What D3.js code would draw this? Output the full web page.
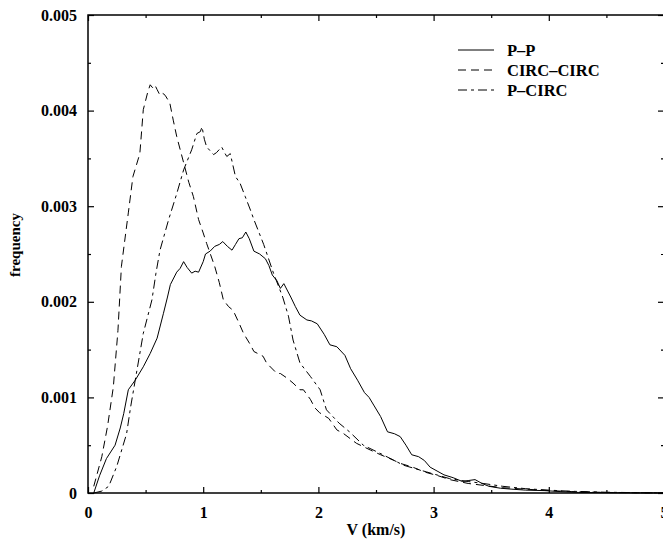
<!DOCTYPE html>
<html>
<head>
<meta charset="utf-8">
<script src="https://cdn.jsdelivr.net/npm/d3@7"></script>
<style>
  html, body { margin: 0; padding: 0; background: #fff; }
  svg { display: block; }
  text { font-family: "Liberation Serif", "Times New Roman", serif; font-weight: bold; fill: #000; }
</style>
</head>
<body>
<svg id="chart" width="663" height="542"></svg>
<script>
// ---- data (V in km/s, frequency in units of 1e-3) ----
const seriesNames = ["P\u2013P", "CIRC\u2013CIRC", "P\u2013CIRC"];
const xTicks = [0, 1, 2, 3, 4, 5];
const yTicks = [0, 0.001, 0.002, 0.003, 0.004, 0.005];
const yTickLabels = ["0", "0.001", "0.002", "0.003", "0.004", "0.005"];

const ppData = [[0.05,0.00],[0.10,0.18],[0.16,0.36],[0.235,0.50],[0.28,0.68],[0.31,0.83],[0.35,1.08],[0.41,1.18],[0.48,1.32],[0.54,1.46],[0.60,1.62],[0.655,1.88],[0.69,2.05],[0.715,2.18],[0.77,2.31],[0.80,2.35],[0.83,2.42],[0.86,2.36],[0.90,2.30],[0.93,2.32],[0.96,2.31],[1.00,2.42],[1.02,2.50],[1.06,2.53],[1.10,2.58],[1.14,2.60],[1.17,2.63],[1.21,2.58],[1.25,2.54],[1.28,2.60],[1.31,2.66],[1.34,2.67],[1.37,2.73],[1.40,2.66],[1.44,2.53],[1.49,2.50],[1.54,2.45],[1.57,2.38],[1.60,2.28],[1.64,2.22],[1.67,2.14],[1.70,2.19],[1.76,2.05],[1.80,1.95],[1.84,1.86],[1.90,1.81],[1.94,1.80],[1.99,1.77],[2.05,1.66],[2.10,1.55],[2.16,1.53],[2.23,1.44],[2.28,1.30],[2.34,1.18],[2.40,1.05],[2.44,1.00],[2.48,0.92],[2.54,0.80],[2.60,0.64],[2.66,0.62],[2.71,0.59],[2.76,0.50],[2.81,0.40],[2.87,0.38],[2.92,0.34],[2.97,0.27],[3.03,0.23],[3.09,0.19],[3.17,0.16],[3.25,0.12],[3.30,0.13],[3.36,0.14],[3.42,0.10],[3.48,0.07],[3.58,0.05],[3.68,0.04],[3.80,0.03],[3.96,0.025],[4.10,0.015],[4.26,0.006],[4.5,0.003],[4.8,0.001],[5.0,0.0005]];

const ccData = [[0.05,0.07],[0.12,0.38],[0.17,0.70],[0.22,1.11],[0.26,1.70],[0.29,2.37],[0.35,2.93],[0.39,3.31],[0.45,3.55],[0.48,4.01],[0.52,4.20],[0.54,4.27],[0.56,4.24],[0.58,4.27],[0.60,4.22],[0.625,4.16],[0.65,4.18],[0.67,4.16],[0.71,4.08],[0.74,3.90],[0.77,3.73],[0.84,3.41],[0.875,3.25],[0.915,3.10],[0.96,2.86],[1.00,2.72],[1.03,2.61],[1.10,2.37],[1.14,2.20],[1.175,2.02],[1.22,1.95],[1.26,1.91],[1.31,1.78],[1.35,1.67],[1.41,1.55],[1.44,1.48],[1.52,1.43],[1.55,1.36],[1.64,1.25],[1.67,1.25],[1.73,1.20],[1.78,1.15],[1.84,1.08],[1.87,1.08],[1.93,0.98],[1.97,0.89],[2.01,0.84],[2.09,0.78],[2.16,0.66],[2.22,0.62],[2.33,0.52],[2.45,0.45],[2.54,0.40],[2.64,0.35],[2.71,0.31],[2.82,0.27],[2.92,0.22],[3.04,0.18],[3.14,0.14],[3.30,0.10],[3.43,0.08],[3.6,0.055],[3.8,0.04],[4.0,0.025],[4.2,0.015],[4.5,0.006],[4.8,0.002],[5.0,0.001]];

const pcData = [[0.05,0.0],[0.12,0.02],[0.18,0.07],[0.25,0.28],[0.335,0.62],[0.37,0.90],[0.41,1.18],[0.48,1.67],[0.555,2.02],[0.59,2.30],[0.625,2.54],[0.70,2.86],[0.77,3.13],[0.83,3.38],[0.90,3.59],[0.945,3.76],[0.975,3.78],[0.99,3.83],[1.01,3.70],[1.03,3.62],[1.09,3.54],[1.115,3.56],[1.16,3.62],[1.19,3.55],[1.205,3.52],[1.235,3.55],[1.28,3.31],[1.32,3.24],[1.365,3.10],[1.41,2.96],[1.44,2.86],[1.525,2.60],[1.61,2.30],[1.69,2.05],[1.74,1.85],[1.78,1.60],[1.84,1.36],[1.93,1.22],[2.015,1.08],[2.07,0.87],[2.18,0.73],[2.27,0.64],[2.39,0.50],[2.56,0.40],[2.74,0.29],[2.94,0.22],[3.14,0.15],[3.30,0.12],[3.43,0.10],[3.6,0.07],[3.8,0.045],[4.0,0.03],[4.2,0.018],[4.5,0.008],[4.8,0.003],[5.0,0.001]];

// ---- layout ----
const svg = d3.select("#chart");
const mLeft = 88, mRight = 664, mTop = 15, mBottom = 493;
const x = d3.scaleLinear().domain([0, 5]).range([mLeft, mRight]);
const y = d3.scaleLinear().domain([0, 0.005]).range([mBottom, mTop]);

const series = [
  { name: seriesNames[0], data: ppData, dash: null },
  { name: seriesNames[1], data: ccData, dash: "8,5" },
  { name: seriesNames[2], data: pcData, dash: "9,4,3,4" }
];

const line = d3.line().x(d => x(d[0])).y(d => y(d[1] * 0.001));

const plot = svg.append("g");
series.forEach(s => {
  plot.append("path")
    .datum(s.data)
    .attr("d", line)
    .attr("fill", "none")
    .attr("stroke", "#000")
    .attr("stroke-width", 1)
    .attr("stroke-dasharray", s.dash);
});

// ---- axes (ticks pointing inward on all four sides) ----
const minorX = d3.range(0.5, 5, 1);
const minorY = d3.range(0.0005, 0.005, 0.001);

const axB = d3.axisBottom(x).tickValues(xTicks).tickSize(-6).tickPadding(14).tickFormat(d3.format("d"));
const axT = d3.axisTop(x).tickValues(xTicks).tickSize(-6).tickFormat("");
const axL = d3.axisLeft(y).tickValues(yTicks).tickSize(-6).tickPadding(11).tickFormat((d, i) => yTickLabels[i]);
const axR = d3.axisRight(y).tickValues(yTicks).tickSize(-6).tickFormat("");

function styleAxis(g) {
  g.select(".domain").remove();
  g.selectAll(".tick line").attr("stroke", "#000").attr("stroke-width", 1.2);
  g.selectAll("text").attr("font-size", 16).attr("font-family", "Liberation Serif, serif").attr("font-weight", "bold");
}

svg.append("g").attr("transform", `translate(0,${mBottom})`).call(axB).call(styleAxis);
svg.append("g").attr("transform", `translate(0,${mTop})`).call(axT).call(styleAxis);
svg.append("g").attr("transform", `translate(${mLeft},0)`).call(axL).call(styleAxis);
svg.append("g").attr("transform", `translate(${mRight},0)`).call(axR).call(styleAxis);

// minor ticks
svg.append("g").attr("transform", `translate(0,${mBottom})`)
  .call(d3.axisBottom(x).tickValues(minorX).tickSize(-3).tickFormat("")).call(styleAxis);
svg.append("g").attr("transform", `translate(0,${mTop})`)
  .call(d3.axisTop(x).tickValues(minorX).tickSize(-3).tickFormat("")).call(styleAxis);
svg.append("g").attr("transform", `translate(${mLeft},0)`)
  .call(d3.axisLeft(y).tickValues(minorY).tickSize(-3).tickFormat("")).call(styleAxis);
svg.append("g").attr("transform", `translate(${mRight},0)`)
  .call(d3.axisRight(y).tickValues(minorY).tickSize(-3).tickFormat("")).call(styleAxis);

// frame
svg.append("rect")
  .attr("x", mLeft).attr("y", mTop)
  .attr("width", mRight - mLeft).attr("height", mBottom - mTop)
  .attr("fill", "none").attr("stroke", "#000").attr("stroke-width", 1.5);

// axis titles
svg.append("text")
  .attr("x", 376).attr("y", 535)
  .attr("text-anchor", "middle").attr("font-size", 16)
  .text("V (km/s)");
svg.append("text")
  .attr("transform", "translate(20,245) rotate(-90)")
  .attr("text-anchor", "middle").attr("font-size", 15)
  .text("frequency");

// legend
const legend = svg.append("g");
series.forEach((s, i) => {
  const ly = 50 + i * 20;
  legend.append("line")
    .attr("x1", 458).attr("x2", 494).attr("y1", ly).attr("y2", ly)
    .attr("stroke", "#000").attr("stroke-width", 1)
    .attr("stroke-dasharray", s.dash);
  legend.append("text")
    .attr("x", 507).attr("y", ly + 5.5)
    .attr("font-size", 16.5)
    .text(s.name);
});
</script>
</body>
</html>
